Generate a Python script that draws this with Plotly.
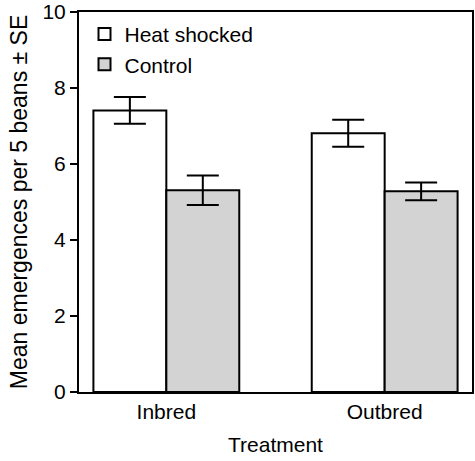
import plotly.graph_objects as go

categories = ["Inbred", "Outbred"]
heat_means = [7.41, 6.81]
heat_se = [0.35, 0.355]
control_means = [5.31, 5.28]
control_se = [0.39, 0.235]
y_ticks = [0, 2, 4, 6, 8, 10]

font_family = "Liberation Sans, Arial, sans-serif"

fig = go.Figure()
fig.add_trace(go.Bar(
    x=categories, y=heat_means, name="Heat shocked",
    marker=dict(color="white", line=dict(color="black", width=2)),
    error_y=dict(type="data", array=heat_se, visible=True, color="black", thickness=2, width=16),
))
fig.add_trace(go.Bar(
    x=categories, y=control_means, name="Control",
    marker=dict(color="#d3d3d3", line=dict(color="black", width=2)),
    error_y=dict(type="data", array=control_se, visible=True, color="black", thickness=2, width=16),
))

fig.update_layout(
    width=475, height=461,
    margin=dict(l=79, r=3, t=12, b=69),
    plot_bgcolor="white", paper_bgcolor="white",
    barmode="group", bargap=0.332, bargroupgap=0,
    font=dict(family=font_family, size=21, color="black"),
    showlegend=True,
    legend=dict(x=0.014, y=0.995, xanchor="left", yanchor="top",
                bgcolor="rgba(0,0,0,0)", borderwidth=0,
                font=dict(size=21), traceorder="normal"),
    xaxis=dict(
        range=[-0.4, 1.4], showline=True, mirror=True, linecolor="black", linewidth=2,
        ticks="", showgrid=False, zeroline=False, automargin=False,
        tickfont=dict(size=21),
        title=dict(text="Treatment", standoff=15, font=dict(size=21)),
    ),
    yaxis=dict(
        range=[0, 10], tickvals=y_ticks, showline=True, mirror=True, linecolor="black", linewidth=2,
        ticks="outside", ticklen=7, tickwidth=2, tickcolor="black",
        showgrid=False, zeroline=False, automargin=False,
        tickfont=dict(size=21),
        title=dict(text="Mean emergences per 5 beans ± SE", standoff=8, font=dict(size=23)),
    ),
)

fig.write_html("out.html", config={"displayModeBar": False},
               post_script="document.body.style.margin='0';document.body.style.overflow='hidden';")
